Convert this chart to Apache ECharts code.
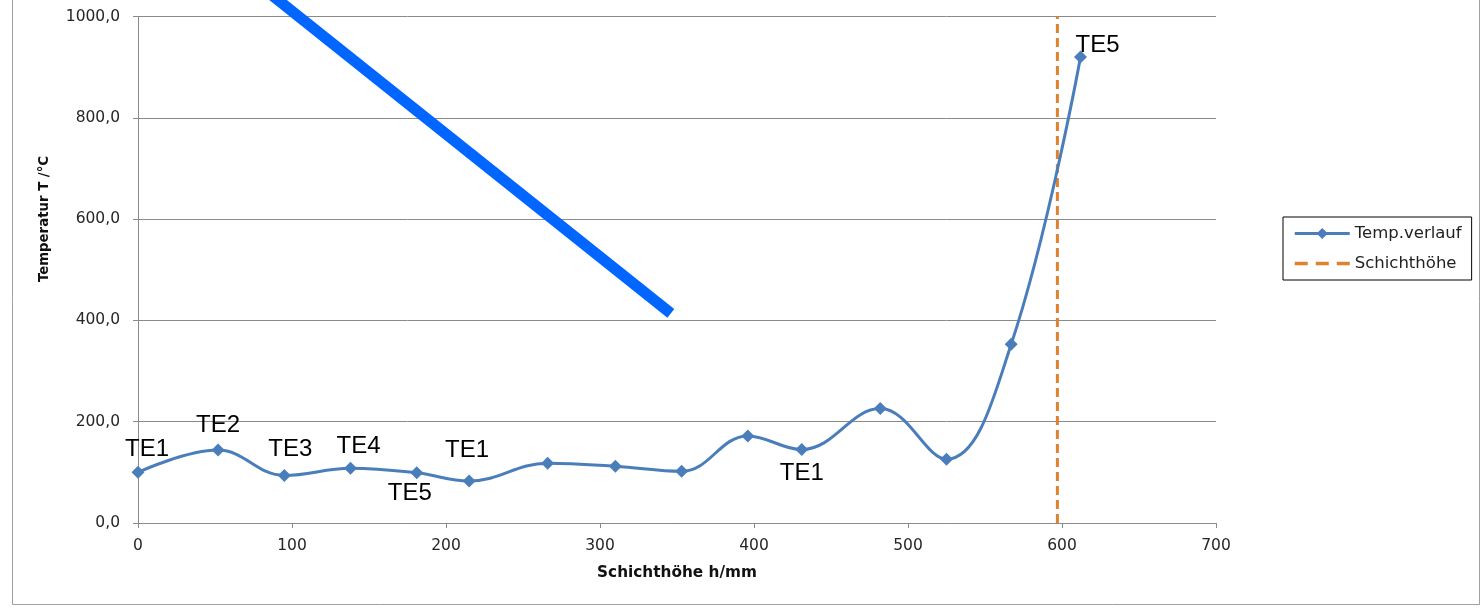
<!DOCTYPE html>
<html>
<head>
<meta charset="utf-8">
<script src="https://cdn.jsdelivr.net/npm/echarts@6/dist/echarts.min.js"></script>
<style>
  html, body { margin: 0; padding: 0; background: #fff; }
  #chart { width: 1483px; height: 608px; }
</style>
</head>
<body>
<div id="chart"></div>
<script>
// Measurement positions along the layer height (mm)
const heights = [0, 52, 95, 138, 181, 215, 266, 310, 353, 396, 431, 482, 525, 567, 612];
// Measured temperature at each position (°C)
const temps = [100, 144, 94, 108, 99, 83, 118, 112, 102, 172, 145, 226, 126, 353, 920];
// Thermocouple names shown at selected points
const sensorNames = ['TE1', 'TE2', 'TE3', 'TE4', 'TE5', 'TE1', '', '', '', '', 'TE1', '', '', '', 'TE5'];
// Current layer height (mm) and temperature span of the marker line
const layerHeight = 597;
const layerSpan = [0, 1000];
// Hand-drawn annotation stroke (data coordinates: mm, °C)
const strokeStart = [83, 1052];
const strokeEnd = [346, 414];

const xTicks = { min: 0, max: 700, step: 100 };
const yTicks = { min: 0, max: 1000, step: 200 };

// Placement of each sensor name relative to its point
const labelOffsets = {
  0: [9, -23], 1: [0, -25], 2: [6, -26], 3: [8, -22], 4: [-7, 21],
  5: [-2, -31], 10: [0, 24], 14: [17, -12]
};

const tempData = heights.map((h, i) => {
  const item = { value: [h, temps[i]] };
  if (sensorNames[i]) {
    item.label = { show: true, formatter: sensorNames[i], offset: labelOffsets[i] || [0, -24] };
  }
  return item;
});

const chart = echarts.init(document.getElementById('chart'));
const axisGrey = '#8a8a8a';
const tickFont = { fontFamily: 'DejaVu Sans', fontSize: 15.5, color: '#262626' };

chart.setOption({
  animation: false,
  backgroundColor: '#fff',
  grid: { left: 138, right: 267, top: 16.6, bottom: 85, containLabel: false },
  xAxis: {
    type: 'value',
    min: xTicks.min, max: xTicks.max, interval: xTicks.step,
    axisLine: { show: true, lineStyle: { color: axisGrey, width: 1 } },
    axisTick: { show: true, length: 5, lineStyle: { color: axisGrey } },
    splitLine: { show: false },
    axisLabel: Object.assign({ margin: 15 }, tickFont)
  },
  yAxis: {
    type: 'value',
    min: yTicks.min, max: yTicks.max, interval: yTicks.step,
    axisLine: { show: true, lineStyle: { color: axisGrey, width: 1 } },
    axisTick: { show: true, length: 5, lineStyle: { color: axisGrey } },
    splitLine: { show: true, lineStyle: { color: axisGrey, width: 1 } },
    axisLabel: Object.assign({ margin: 18, formatter: v => v.toFixed(1).replace('.', ',') }, tickFont)
  },
  legend: {
    orient: 'vertical',
    left: 1283, top: 217,
    padding: [8, 10, 8, 10],
    itemGap: 13,
    itemWidth: 55, itemHeight: 14,
    borderColor: '#000', borderWidth: 1,
    textStyle: { fontFamily: 'DejaVu Sans', fontSize: 16.5, color: '#222' },
    data: [
      { name: 'Temp.verlauf', lineStyle: { width: 3 } },
      { name: 'Schichthöhe', itemStyle: { opacity: 0 }, lineStyle: { width: 3.5, type: [13, 8] } }
    ]
  },
  graphic: [
    {
      type: 'rect', silent: true, z: -1,
      shape: { x: 12.5, y: -5, width: 1467, height: 609.5 },
      style: { fill: 'none', stroke: '#a0a0a0', lineWidth: 1 }
    },
    {
      type: 'text', x: 45, y: 219, rotation: Math.PI / 2,
      style: {
        text: 'Temperatur T /°C', fontFamily: 'DejaVu Sans', fontWeight: 'bold',
        fontSize: 13.3, fill: '#111', align: 'center', verticalAlign: 'middle'
      }
    },
    {
      type: 'text', x: 677, y: 573,
      style: {
        text: 'Schichthöhe h/mm', fontFamily: 'DejaVu Sans', fontWeight: 'bold',
        fontSize: 15.3, fill: '#111', align: 'center', verticalAlign: 'middle'
      }
    }
  ],
  series: [
    {
      name: 'Temp.verlauf',
      type: 'line',
      smooth: 0.4,
      data: tempData,
      symbol: 'diamond',
      symbolSize: 13,
      lineStyle: { color: '#4a7ebb', width: 3 },
      itemStyle: { color: '#4a7ebb' },
      label: {
        show: false, position: 'inside', align: 'center', verticalAlign: 'middle',
        fontFamily: 'Liberation Sans', fontSize: 24, color: '#000'
      },
      z: 3
    },
    {
      name: 'Schichthöhe',
      type: 'line',
      data: layerSpan.map(t => [layerHeight, t]),
      symbol: 'none',
      lineStyle: { color: '#e0812e', width: 3, type: [9, 5] },
      itemStyle: { color: '#e0812e' },
      z: 2
    },
    {
      name: 'annotation',
      type: 'line',
      data: [strokeStart, strokeEnd],
      symbol: 'none',
      clip: false,
      silent: true,
      lineStyle: { color: '#0066ff', width: 11, cap: 'butt' },
      z: 5
    }
  ]
});
</script>
</body>
</html>
